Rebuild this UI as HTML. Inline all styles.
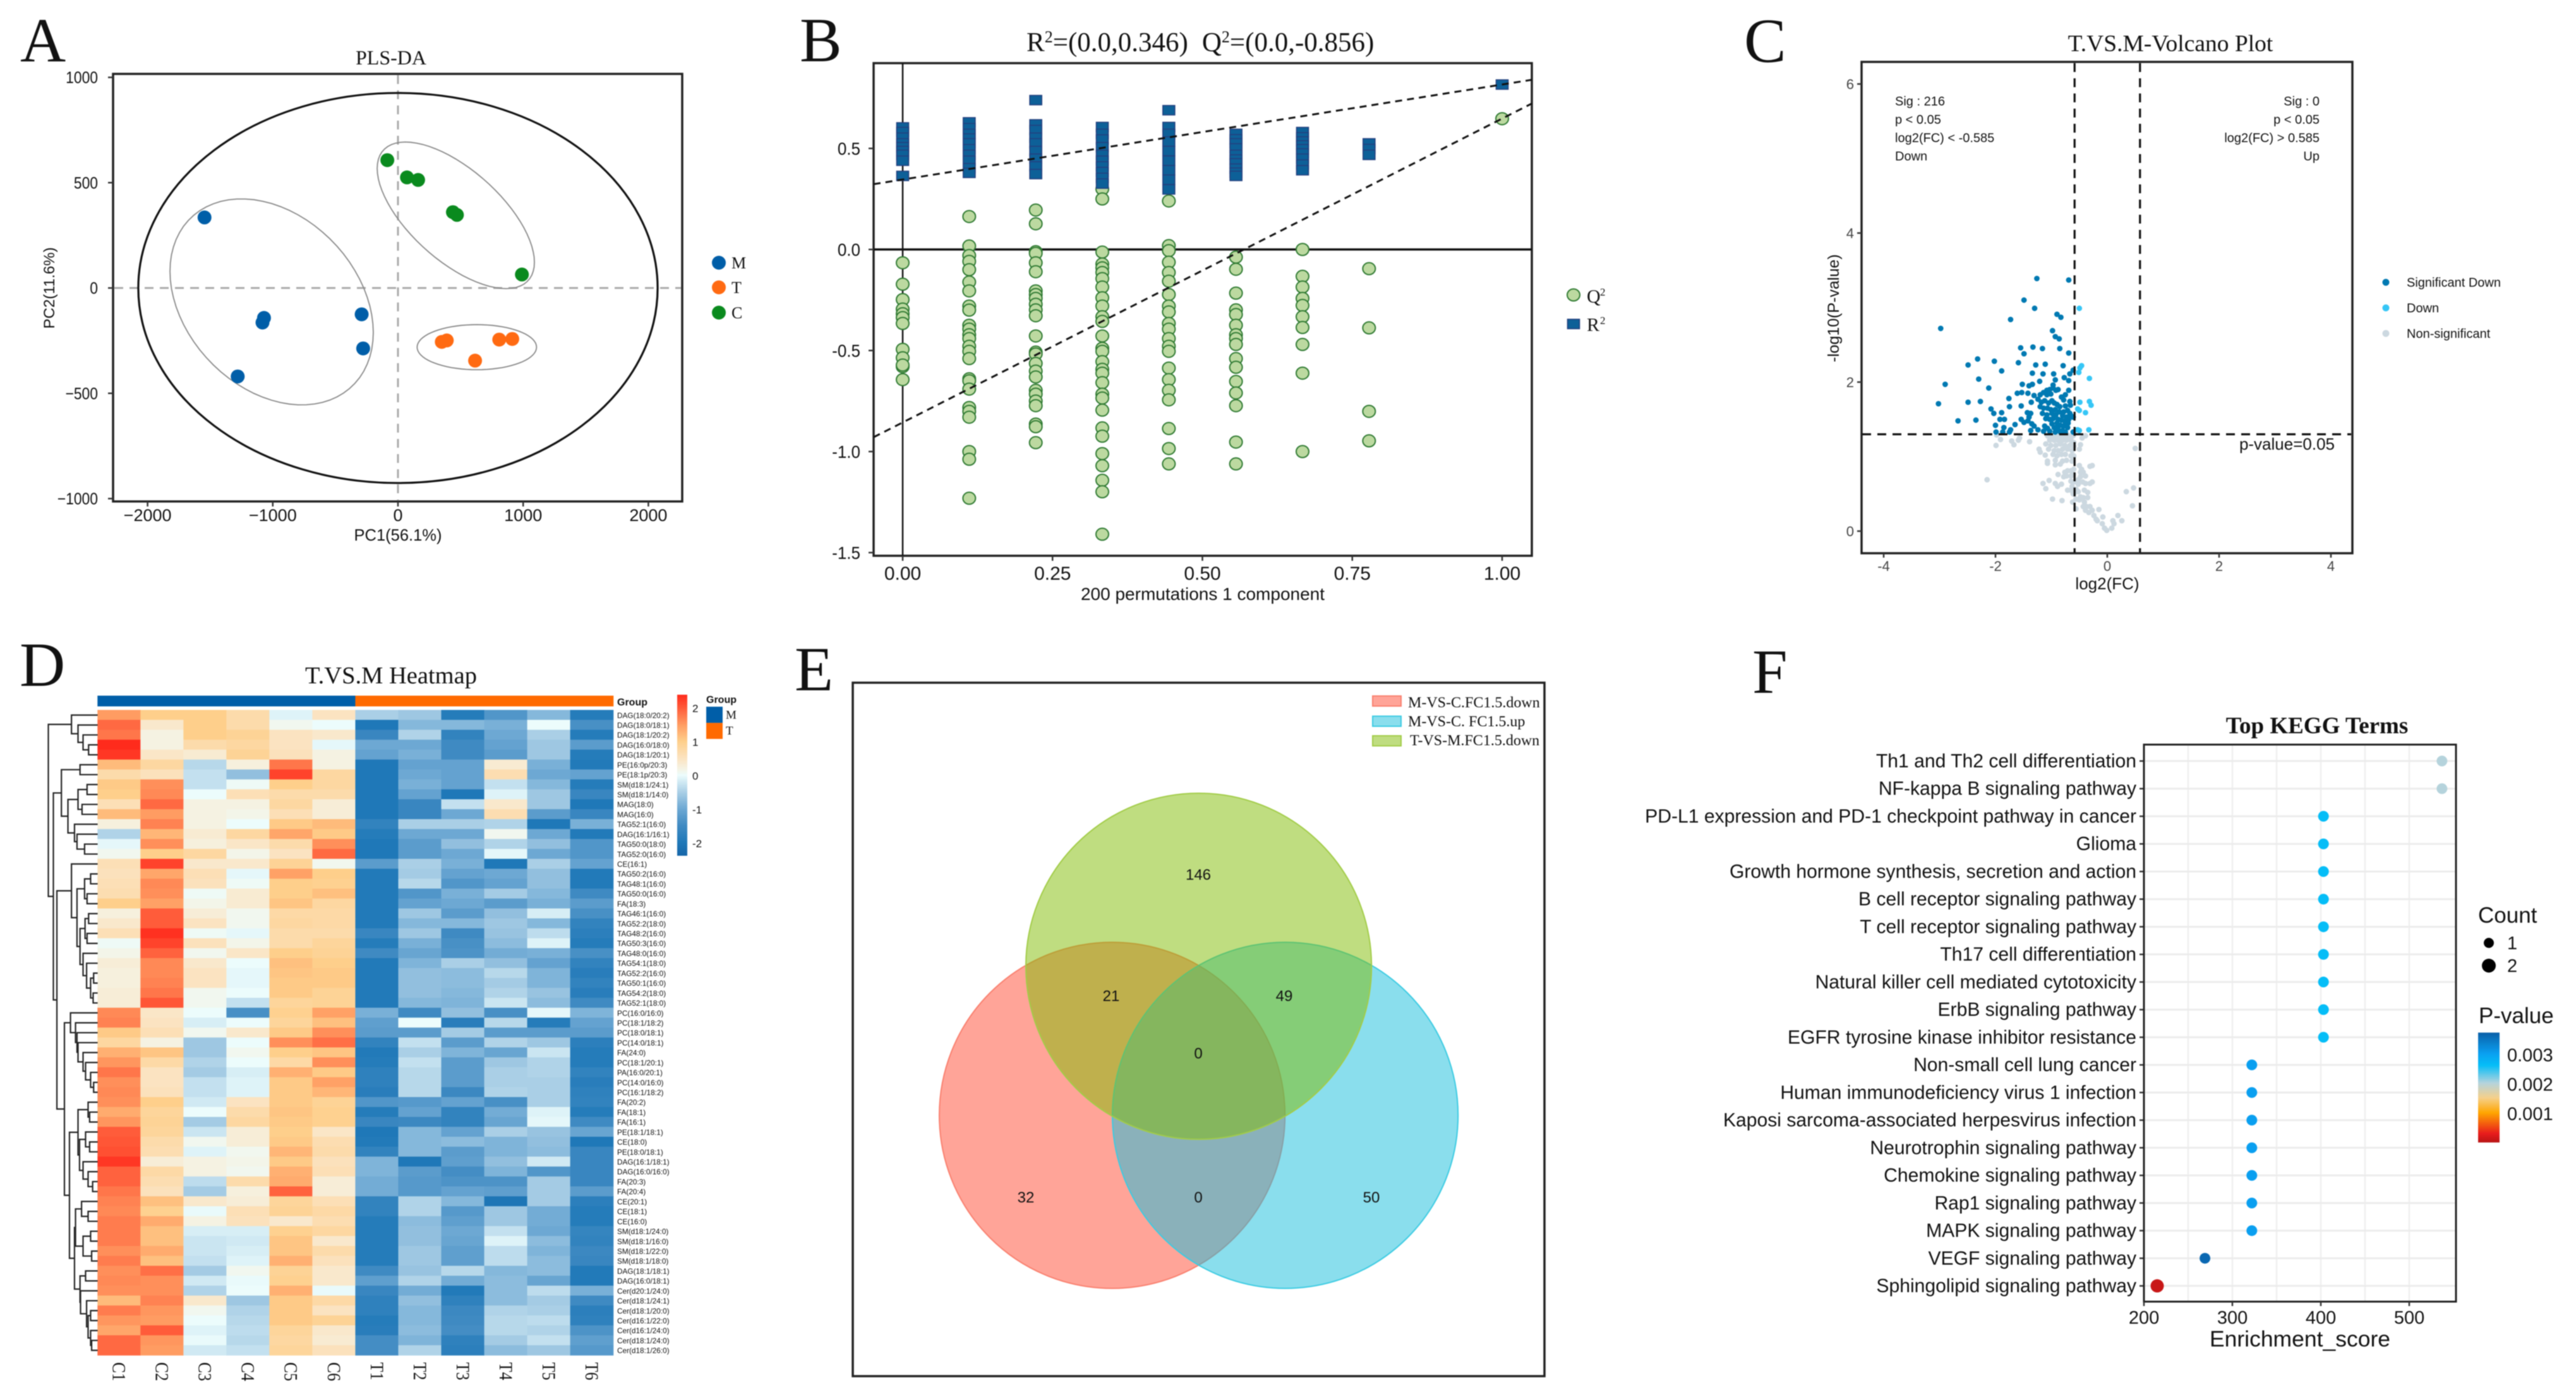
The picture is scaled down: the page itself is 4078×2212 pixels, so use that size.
<!DOCTYPE html>
<html lang="en">
<head>
<meta charset="utf-8">
<title>Multi-panel lipidomics figure</title>
<style>
html,body{margin:0;padding:0;background:#fff;}
svg{display:block;filter:blur(0.7px);}
.s{font-family:"Liberation Serif",serif;fill:#111;}
.a{font-family:"Liberation Sans",sans-serif;fill:#111;}
.frame{fill:none;stroke:#222;stroke-width:3.5;}
.tick{stroke:#333;stroke-width:2.5;}
</style>
</head>
<body>
<svg id="fig" xmlns="http://www.w3.org/2000/svg" width="4078" height="2212" viewBox="0 0 4078 2212">
<defs>
<linearGradient id="heatGrad" x1="0" y1="1" x2="0" y2="0"></linearGradient>
<linearGradient id="pGrad" x1="0" y1="1" x2="0" y2="0"></linearGradient>
</defs>
<rect width="4078" height="2212" fill="#fff"/>

<text class="s" x="32" y="97" font-size="100">A</text>
<text class="s" x="1266" y="97" font-size="100">B</text>
<text class="s" x="2761" y="98" font-size="100">C</text>
<text class="s" x="31" y="1086" font-size="100">D</text>
<text class="s" x="1258" y="1093" font-size="100">E</text>
<text class="s" x="2774" y="1097" font-size="100">F</text>

<g id="panelA">
<text class="s" x="619" y="102" font-size="32" text-anchor="middle">PLS-DA</text>
<text class="a" x="630" y="856" font-size="25.5" text-anchor="middle">PC1(56.1%)</text>
<text class="a" transform="translate(86,456) rotate(-90)" font-size="24" text-anchor="middle">PC2(11.6%)</text>
</g>

<g id="panelB">
<text class="s" x="1625" y="81" font-size="43">R<tspan dy="-14" font-size="26">2</tspan><tspan dy="14">=(0.0,0.346)</tspan><tspan dx="22">Q</tspan><tspan dy="-14" font-size="26">2</tspan><tspan dy="14">=(0.0,-0.856)</tspan></text>
<text class="a" x="1904" y="950" font-size="28" text-anchor="middle">200 permutations 1 component</text>
</g>

<g id="panelC">
<text class="s" x="3436" y="81" font-size="37.5" text-anchor="middle">T.VS.M-Volcano Plot</text>
<text class="a" x="3336" y="933" font-size="26" text-anchor="middle">log2(FC)</text>
<text class="a" transform="translate(2911,488) rotate(-90)" font-size="25" text-anchor="middle">-log10(P-value)</text>
<g class="a" font-size="20">
<text class="a" x="3000" y="167">Sig : 216</text>
<text class="a" x="3000" y="196">p &lt; 0.05</text>
<text class="a" x="3000" y="225">log2(FC) &lt; -0.585</text>
<text class="a" x="3000" y="254">Down</text>
</g>
<g class="a" font-size="20" text-anchor="end">
<text class="a" x="3672" y="167">Sig : 0</text>
<text class="a" x="3672" y="196">p &lt; 0.05</text>
<text class="a" x="3672" y="225">log2(FC) &gt; 0.585</text>
<text class="a" x="3672" y="254">Up</text>
</g>
<text class="a" x="3696" y="712" font-size="26" text-anchor="end">p-value=0.05</text>
</g>

<g id="panelD">
<text class="s" x="619" y="1082" font-size="38.5" text-anchor="middle">T.VS.M Heatmap</text>
<text class="a" x="977" y="1117" font-size="16" font-weight="bold">Group</text>
<text class="a" x="1118" y="1113" font-size="16" font-weight="bold">Group</text>
<rect x="1118" y="1119" width="26" height="25.6" fill="#005ea8"/>
<rect x="1118" y="1144.6" width="26" height="25.4" fill="#ff6a00"/>
<text class="s" x="1149" y="1138" font-size="19">M</text>
<text class="s" x="1149" y="1163" font-size="19">T</text>
</g>

<g id="panelE"></g>

<g id="panelF">
<text class="s" x="3668" y="1161" font-size="37" font-weight="bold" text-anchor="middle">Top KEGG Terms</text>
<text class="a" x="3641" y="2132" font-size="35.5" text-anchor="middle">Enrichment_score</text>
<text class="a" x="3923" y="1461" font-size="35">Count</text>
<text class="a" x="3924" y="1620" font-size="35">P-value</text>
</g>
</svg>

<script>
/* ---------- Panel A data ---------- */
const pcaTicksX = [-2000, -1000, 0, 1000, 2000];
const pcaTicksY = [1000, 500, 0, -500, -1000];
const pcaGroupM = [[-1545, 335], [-1082, -164], [-1070, -142], [-290, -125], [-278, -287], [-1280, -420]];
const pcaGroupT = [[350, -256], [390, -249], [809, -245], [913, -242], [616, -345]];
const pcaGroupC = [[-85, 607], [72, 525], [161, 513], [439, 360], [471, 347], [990, 64]];
const pcaConfidenceRadius = [2074, 926];
/* centre x, centre y, half-width, half-height, correlation */
const pcaEllipseM = [-1009, -66, 812, 489, -0.297];
const pcaEllipseT = [630, -281, 477, 107, 0];
const pcaEllipseC = [462, 345, 628, 348, -0.64];

/* ---------- Panel B data ---------- */
const permTicksX = [0, 0.25, 0.5, 0.75, 1];
const permTickLabelsX = ['0.00', '0.25', '0.50', '0.75', '1.00'];
const permTicksY = [0.5, 0, -0.5, -1, -1.5];
const permTickLabelsY = ['0.5', '0.0', '-0.5', '-1.0', '-1.5'];
const permColumns = [0, 0.111, 0.222, 0.333, 0.444, 0.556, 0.667, 0.778, 1];
const q2Values = [
 [-.066,-.172,-.248,-.295,-.318,-.337,-.366,-.494,-.536,-.58,-.572,-.644],
 [.163,.017,-.03,-.059,-.1,-.161,-.205,-.28,-.3,-.375,-.394,-.422,-.441,-.479,-.504,-.54,-.64,-.65,-.691,-.782,-.801,-.83,-1,-1.038,-1.231],
 [.195,.127,-.011,-.019,-.066,-.11,-.205,-.223,-.242,-.271,-.299,-.328,-.428,-.508,-.517,-.564,-.602,-.631,-.697,-.716,-.75,-.773,-.864,-.877,-.956],
 [.299,.25,-.013,-.072,-.091,-.114,-.144,-.186,-.239,-.28,-.333,-.356,-.428,-.489,-.504,-.555,-.593,-.612,-.659,-.716,-.735,-.795,-.883,-.924,-1.01,-1.07,-1.142,-1.199,-1.409],
 [.24,.019,-.006,-.063,-.114,-.157,-.223,-.28,-.309,-.366,-.394,-.441,-.479,-.504,-.587,-.644,-.697,-.744,-.886,-.985,-1.061],
 [-.038,-.098,-.216,-.299,-.322,-.375,-.422,-.441,-.47,-.54,-.583,-.653,-.71,-.773,-.953,-1.061],
 [0,-.133,-.186,-.242,-.277,-.333,-.386,-.47,-.612,-1],
 [-.095,-.388,-.801,-.947],
 [.647]
];
const r2Values = [
 [.604,.581,.553,.525,.506,.487,.468,.439,.364],
 [.629,.6,.572,.549,.525,.496,.468,.439,.402,.379],
 [.739,.619,.591,.553,.525,.487,.449,.411,.373],
 [.606,.572,.544,.506,.468,.439,.411,.383,.354,.326],
 [.689,.606,.572,.534,.487,.439,.392,.345,.297],
 [.572,.545,.525,.5,.468,.445,.426,.4,.38,.364],
 [.581,.555,.534,.515,.496,.475,.449,.42,.392],
 [.525,.497,.468],
 [.816]
];
const r2Fit = [0.346, 0.816];
const q2Fit = [-0.856, 0.647];

/* ---------- Panel C data ---------- */
const volcanoTicksX = [-4, -2, 0, 2, 4];
const volcanoTicksY = [0, 2, 4, 6];
const volcanoThresholdFC = [-0.585, 0.585];
const volcanoThresholdP = 1.3;
const volcanoSigDown = [
[-1.26,3.39],[-.69,3.37],[-1.49,3.10],[-1.30,2.99],[-1.73,2.84],[-.90,2.91],[-.83,2.87],[-2.98,2.72],[-.98,2.69],[-.93,2.61],[-.86,2.58],
[-1.55,2.46],[-1.33,2.47],[-1.16,2.45],[-.85,2.45],[-1.49,2.38],[-.69,2.39],[-2.32,2.31],[-2.49,2.23],[-2.02,2.28],[-1.59,2.26],[-1.28,2.23],[-1.11,2.24],[-.79,2.22],[-.61,2.16],[-1.89,2.15],
[-1.34,2.12],[-1.15,2.11],[-.96,2.11],[-.67,2.11],[-2.30,2.04],[-.77,2.06],[-2.90,1.97],[-.93,2.03],[-1.21,2.01],[-.69,2.02],[-2.12,1.92],[-1.52,1.97],[-1.34,1.97],[-1.40,1.95],[-.97,1.96],
[-1.61,1.85],[-1.53,1.86],[-1.42,1.85],[-1.31,1.82],[-.88,1.90],[-.69,1.89],[-.75,1.83],[-3.02,1.71],[-2.49,1.73],[-2.27,1.74],[-1.76,1.78],[-1.36,1.73],[-1.54,1.68],[-1.75,1.67],[-2.08,1.64],[-1.89,1.59],[-2.03,1.58],
[-1.92,1.50],[-1.84,1.50],[-2.67,1.48],[-2.35,1.49],[-2.00,1.42],[-1.54,1.50],[-1.65,1.43],[-1.85,1.39],[-1.73,1.36],[-1.75,1.33],[-1.99,1.33],[-1.87,1.33],[-1.43,1.59],[-1.37,1.58],[-1.40,1.53],[-1.49,1.46],[-1.42,1.48],[-1.35,1.44],[-1.31,1.41],[-1.37,1.35],[-1.24,1.36],
[-1.20,1.83],[-1.14,1.86],[-1.08,1.89],[-1.03,1.90],[-.97,1.92],[-.92,1.89],[-1.08,1.83],[-1.01,1.84],[-1.24,1.77],[-1.18,1.73],[-1.12,1.75],[-.99,1.75],[-.95,1.72],[-.82,1.80],[-.78,1.76],[-.67,1.74],[-.66,1.69],[-.75,1.68],
[-1.20,1.67],[-1.14,1.65],[-1.07,1.65],[-1.01,1.63],[-.93,1.63],[-.86,1.60],[-.78,1.60],[-.71,1.62],[-.67,1.58],[-1.16,1.58],[-1.08,1.56],[-.99,1.58],[-.92,1.56],[-.80,1.55],[-.73,1.53],[-.61,1.53],[-.69,1.50],[-1.10,1.51],[-.97,1.51],[-.82,1.49],[-.76,1.48],
[-.90,1.45],[-.99,1.44],[-.84,1.42],[-.78,1.41],[-.71,1.39],[-1.12,1.41],[-1.07,1.38],[-.95,1.39],[-.88,1.36],[-.80,1.35],[-1.03,1.34],[-1.14,1.34],[-.93,1.33],[-.84,1.33],[-.75,1.33],[-.61,1.33],
[-1.05,1.72],[-.9,1.7],[-.85,1.67],[-.95,1.55],[-1.03,1.5],[-.88,1.5],[-.9,1.38],[-.75,1.45],[-.7,1.45],[-.65,1.55]
];
const volcanoDown = [[-.50,2.99],[-.46,2.22],[-.49,2.19],[-.51,2.13],[-.32,2.05],[-.49,1.73],[-.32,1.74],[-.29,1.69],[-.53,1.64],[-.50,1.62],[-.39,1.59],[-.53,1.36],[-.50,1.35],[-.33,1.36]];
const volcanoNonSig = [
[-1.98,1.29],[-1.91,1.23],[-1.99,1.15],[-1.71,1.21],[-1.67,1.16],[-1.57,1.25],[-1.59,1.22],[-1.39,1.20],[-2.15,.69],[-.45,1.25],[-.39,1.28],[.50,1.11],[-.48,1.16],[-.50,1.10],[-1.22,1.10],[-1.20,1.06],[-1.11,1.02],[-1.07,.94],[-1.07,.91],[-.93,.89],[-.88,.76],[-1.15,.64],[-1.10,.57],[-1.04,.68],[-.93,.64],[-.82,.63],[-.89,.60],[-.98,.43],[-.81,.41],[-.62,.39],[-.56,.30],[-.27,.88],[-.31,.87],[-.27,.66],[-.31,.64],[.34,.53],[.47,.58],[.45,.34],[.19,.21],[.10,.14],[.12,.10],[.08,.04],[.26,.14],[-.15,.29],[-.08,.19],[-.09,.10],[-.05,.04],[-.01,.01],
[-1.07,1.28],[-.99,1.28],[-.92,1.28],[-.84,1.28],[-.76,1.28],[-.69,1.28],[-.61,1.28],[-1.03,1.22],[-.95,1.22],[-.88,1.22],[-.80,1.22],[-.73,1.22],[-.65,1.22],[-.60,1.19],[-1.10,1.17],[-1.01,1.15],[-.92,1.15],[-.84,1.17],[-.76,1.15],[-.67,1.15],[-.60,1.14],[-1.05,1.10],[-.95,1.08],[-.88,1.08],[-.80,1.10],[-.71,1.10],[-.63,1.08],[-.97,1.03],[-.90,1.01],[-.82,1.03],[-.75,1.03],[-.65,1.01],[-.60,1.01],[-.93,.95],[-.80,.94],[-.73,.95],[-.63,.94],[-.84,.90],
[-.50,.88],[-.46,.83],[-.43,.79],[-.39,.74],[-.48,.79],[-.48,.73],[-.52,.69],[-.44,.66],[-.39,.64],[-.71,.81],[-.65,.81],[-.76,.79],[-.73,.74],[-.78,.73],[-.65,.74],[-.60,.83],[-.61,.76],[-.65,.67],[-.60,.66],[-.52,.63],[-.63,.60],[-.56,.56],[-.71,.55],[-.65,.55],[-.60,.50],[-.52,.53],[-.41,.55],[-.35,.52],[-.56,.43],[-.48,.46],[-.43,.45],[-.35,.45],[-.41,.39],[-.31,.33],[-.37,.33],[-.39,.28],[-.33,.25],[-.27,.28],[-.24,.21],[-.20,.16],[-.18,.14],[-.61,.50],[-.50,.42],[-.43,.33]
];
const volcanoLegendLabels = ['Significant Down', 'Down', 'Non-significant'];

/* ---------- Panel D data ---------- */
const sampleLabels = ['C1','C2','C3','C4','C5','C6','T1','T2','T3','T4','T5','T6'];
const lipidLabels = ['DAG(18:0/20:2)','DAG(18:0/18:1)','DAG(18:1/20:2)','DAG(16:0/18:0)','DAG(18:1/20:1)','PE(16:0p/20:3)','PE(18:1p/20:3)','SM(d18:1/24:1)','SM(d18:1/14:0)','MAG(18:0)','MAG(16:0)','TAG52:1(16:0)','DAG(16:1/16:1)','TAG50:0(18:0)','TAG52:0(16:0)','CE(16:1)','TAG50:2(16:0)','TAG48:1(16:0)','TAG50:0(16:0)','FA(18:3)','TAG46:1(16:0)','TAG52:2(18:0)','TAG48:2(16:0)','TAG50:3(16:0)','TAG48:0(16:0)','TAG54:1(18:0)','TAG52:2(16:0)','TAG50:1(16:0)','TAG54:2(18:0)','TAG52:1(18:0)','PC(16:0/16:0)','PC(18:1/18:2)','PC(18:0/18:1)','PC(14:0/18:1)','FA(24:0)','PC(18:1/20:1)','PA(16:0/20:1)','PC(14:0/16:0)','PC(16:1/18:2)','FA(20:2)','FA(18:1)','FA(16:1)','PE(18:1/18:1)','CE(18:0)','PE(18:0/18:1)','DAG(16:1/18:1)','DAG(16:0/16:0)','FA(20:3)','FA(20:4)','CE(20:1)','CE(18:1)','CE(16:0)','SM(d18:1/24:0)','SM(d18:1/16:0)','SM(d18:1/22:0)','SM(d18:1/18:0)','DAG(18:1/18:1)','DAG(16:0/18:1)','Cer(d20:1/24:0)','Cer(d18:1/24:1)','Cer(d18:1/20:0)','Cer(d16:1/22:0)','Cer(d16:1/24:0)','Cer(d18:1/24:0)','Cer(d18:1/26:0)'];
const heatValues = [
[1.5,1,1,.7,-.1,.5,-.5,-.6,-1.9,-1.3,-.8,-1.9],
[1.9,.4,1,.7,.1,0,-2,-.8,-.8,-.9,0,-1.4],
[1.8,.2,1,.9,.5,.4,-1.6,-.45,-1.7,-1,-.5,-1.9],
[2.4,.2,.7,.8,.5,-.05,-1,-1,-1.5,-1.1,-.6,-1.2],
[2.3,.45,.35,.9,.55,.2,-1.1,-.9,-1.5,-1.2,-.6,-1.9],
[1.2,.8,-.4,.25,1.8,.2,-2,-1.1,-1.1,.35,-.9,-1.95],
[.7,.55,-.3,-.7,2.2,.8,-2,-1,-1.1,.65,-1,-1.1],
[1.05,1.6,-.3,.05,1,.8,-2,-.9,-1.1,-.3,-.8,-1.9],
[1,1.65,0,.6,.7,.7,-2,-1.1,-2,-.1,-.6,-1.6],
[.6,1.9,.2,.2,.8,.3,-2,-1.6,-.3,.4,-.6,-2],
[1.2,1.5,.2,.15,.6,.3,-2,-1.6,-1,.65,-1.2,-1.6],
[.25,1.7,.2,0,1.05,1.2,-1.7,-.5,-.5,-.45,-2,-.9],
[-.45,1.25,.35,.8,1.4,1.05,-1.9,-1,-1,.1,-1,-1.95],
[-.05,1.6,.25,.45,.7,1.6,-2,-1.2,-.7,-.45,-.7,-1.3],
[.1,1,.8,.15,.5,1.9,-2,-1.2,-1,-.05,-1,-1.3],
[.6,2.2,.4,.4,.9,.1,-1.2,-.5,-.9,-2,-.5,-1.1],
[.55,1.4,.6,-.05,1.45,1,-1.95,-.55,-1.1,-1,-.7,-1.95],
[.6,1.65,.55,.05,1,.95,-1.95,-.4,-1.3,-1.1,-.7,-1.95],
[.65,1.6,.05,.35,1,1.15,-1.95,-1.3,-.9,-.55,-.8,-1.5],
[1,1.45,.15,.35,1.1,.8,-1.95,-1.1,-1,-1.2,-.9,-1.2],
[.25,2,.3,.1,.75,.75,-1.95,-.6,-1.2,-.7,-.15,-1.4],
[.4,2,.5,.1,.8,.75,-1.95,-.8,-.8,-.6,-.8,-1.7],
[.6,2.35,.05,-.05,.7,.7,-1.6,-.6,-1.5,-.65,-.35,-1.8],
[.05,2.2,.55,.15,.7,.85,-1.9,-.9,-1.4,-.75,-.1,-1.9],
[.15,1.95,.1,.45,1,.9,-1.5,-1.05,-1.35,-.95,-.9,-1.4],
[.3,1.65,.4,0,1.15,1,-1.95,-.85,-.5,-.7,-1.1,-1.7],
[.25,1.65,.5,-.05,1.1,1.05,-1.95,-.7,-.75,-.4,-.85,-1.85],
[.25,1.7,.5,-.05,1.05,1.05,-1.95,-.7,-.75,-.55,-.85,-1.7],
[.3,1.8,.1,0,1.05,.9,-1.95,-.7,-.8,-.45,-.65,-1.85],
[.3,2.05,.1,-.3,.85,.9,-1.95,-.8,-.85,-.25,-.75,-1.5],
[1.65,.45,0,-1.4,.95,1.45,-.9,-1.5,-.7,-1.4,-.05,-.85],
[1.7,.5,-.15,0,.85,1.15,-1.15,0,-1.85,-.4,-1.9,-1.1],
[1.05,.6,.1,.4,1.05,1.6,-1.2,-1.2,-.55,-1.2,-1.2,-1.2],
[.8,.2,-.6,0,1.6,1.85,-1.7,-.3,-1.2,-.45,-.6,-1.8],
[1.3,1.1,-.6,.1,1,1.1,-1.95,-.5,-.85,-1.05,-.25,-1.9],
[1.55,.75,-.45,0,.75,1.6,-1.9,-.3,-1.2,-.6,-.45,-1.9],
[1.8,.5,-.55,-.15,1.3,1.05,-1.75,-.4,-1.2,-.5,-.45,-1.7],
[1.6,.5,-.3,-.1,1.05,1.45,-1.75,-.4,-1.2,-.5,-.5,-1.85],
[1.65,.55,-.3,-.1,1.05,1.25,-1.85,-.4,-1.55,-.45,-.5,-1.75],
[1.6,1,-.2,.5,1.05,.9,-1.3,-1.25,-1.1,-1.4,-.5,-1.7],
[1.35,.85,0,.7,1.1,.95,-1.9,-1.1,-1.7,-.95,-.1,-1.9],
[1.55,.9,-.55,.8,1.05,.95,-1.6,-1.55,-1.7,-1.05,-.05,-1.5],
[2,.85,-.25,.3,1,.45,-2,-.8,-1.1,-.5,-.65,-1.05],
[2.05,.7,.1,.3,1.05,.65,-1.95,-.8,-.75,-.85,-.7,-2],
[2.1,.65,-.1,.1,1.25,.7,-1.7,-.8,-1.2,-.85,-.75,-1.6],
[2.3,.3,.2,.15,1.05,.55,-.85,-2,-1.15,-.7,-.2,-1.6],
[1.95,.75,.2,.1,1.3,.6,-.85,-1.2,-1.45,-.85,-1.3,-1.6],
[1.95,.65,-.35,.7,1.35,.3,-.95,-1.25,-1.35,-1.35,-.55,-1.6],
[1.8,.55,-.55,.25,1.95,.3,-.95,-1.25,-1.1,-1.15,-.55,-1.2],
[1.7,1.15,.4,.3,.85,.6,-1.7,-.45,-.8,-2.05,-.55,-1.8],
[1.65,.95,-.02,.6,.9,.75,-1.7,-.45,-1.25,-.6,-.95,-1.9],
[1.75,1.35,.2,.55,.4,.65,-1.9,-.75,-1.15,-.6,-.95,-1.9],
[1.75,1.15,-.15,-.15,.95,.8,-1.9,-.7,-1,-.3,-1,-1.65],
[1.75,1.15,-.25,-.2,1.1,.4,-1.9,-.7,-1.05,-.1,-.75,-1.7],
[1.6,1.35,-.25,-.15,1.1,.7,-1.9,-.6,-1.15,-.35,-.85,-1.55],
[1.75,1.15,-.3,-.1,1.3,.55,-1.9,-.6,-1.15,-.35,-.75,-1.6],
[1.6,1.85,-.55,.1,.9,.4,-1.5,-.65,-.4,-.8,-.75,-1.95],
[1.65,1.6,-.2,-.02,.95,.4,-1.15,-.45,-.95,-.75,-1.05,-1.95],
[1.6,1.6,-.45,0,1.3,-.02,-1.6,-.95,-1.95,-.75,-.35,-.9],
[1.2,1.7,.4,-.6,1.05,.75,-1.75,-.7,-1.75,-.75,-.55,-1.5],
[1.75,1.55,.1,-.45,1.05,.5,-1.75,-.8,-1.55,-.45,-.5,-1.8],
[1.55,1.5,0,-.4,1.05,.9,-1.9,-.8,-1.5,-.4,-.35,-1.75],
[1.4,2,-.1,-.35,.85,.4,-1.85,-.75,-1.45,-.4,-.45,-1.35],
[1.9,1.55,-.02,-.4,.8,.35,-1.45,-.85,-1.75,-.55,-.3,-1.15],
[1.9,1.5,-.2,-.3,.85,.55,-1.45,-.45,-1.8,-.75,-.6,-1.25]
];
const heatLegendTicks = [2, 1, 0, -1, -2];
const sampleGroups = ['M','M','M','M','M','M','T','T','T','T','T','T'];
/* merge tree: [height, left, right]; a bare number is a row index */
const dendrogram = [98,
 [52,0,[39,1,[29,2,[18,3,4]]]],
 [88,
  [72,[35,5,6],[59,[39,[21,7,8],[31,9,10]],[46,11,[41,12,[26,13,14]]]]],
  [81,
   [52,15,[41,[26,[14,16,17],[21,18,19]],[35,[25,[18,20,21],[21,22,23]],[29,24,[22,25,[14,[8,26,27],[9,28,29]]]]]]],
   [66,
    [54,30,[44,31,[41,32,[39,33,[29,34,[24,35,[14,36,[8,37,38]]]]]]]],
    [56,
     [39,[19,39,[16,40,41]],[36,[24,42,[16,43,44]],[29,45,[19,46,[10,47,48]]]]],
     [46,[44,[32,49,[19,50,51]],[29,[14,52,53],[12,54,55]]],[35,[24,56,57],[34,58,[22,59,[19,[14,60,61],[14,62,[12,63,64]]]]]]]
    ]
   ]
  ]
 ]
];

/* ---------- Panel E data ---------- */
const vennCounts = [146, 21, 49, 0, 32, 0, 50];
const vennLegendLabels = ['M-VS-C.FC1.5.down', 'M-VS-C. FC1.5.up', 'T-VS-M.FC1.5.down'];

/* ---------- Panel F data ---------- */
const keggTerms = ['Th1 and Th2 cell differentiation','NF-kappa B signaling pathway','PD-L1 expression and PD-1 checkpoint pathway in cancer','Glioma','Growth hormone synthesis, secretion and action','B cell receptor signaling pathway','T cell receptor signaling pathway','Th17 cell differentiation','Natural killer cell mediated cytotoxicity','ErbB signaling pathway','EGFR tyrosine kinase inhibitor resistance','Non-small cell lung cancer','Human immunodeficiency virus 1 infection','Kaposi sarcoma-associated herpesvirus infection','Neurotrophin signaling pathway','Chemokine signaling pathway','Rap1 signaling pathway','MAPK signaling pathway','VEGF signaling pathway','Sphingolipid signaling pathway'];
const keggEnrichment = [537,537,403,403,403,403,403,403,403,403,403,322,322,322,322,322,322,322,269,215];
const keggPValue = [.0020,.0020,.0026,.0026,.0026,.0026,.0026,.0026,.0026,.0026,.0026,.0030,.0030,.0030,.0030,.0030,.0030,.0030,.0036,.0001];
const keggCount = [1,1,1,1,1,1,1,1,1,1,1,1,1,1,1,1,1,1,1,2];
const keggTicksX = [200, 300, 400, 500];
const keggMinorX = [250, 350, 450];
const countLegendValues = [1, 2];
const pLegendTicks = [0.003, 0.002, 0.001];

/* ---------- helpers ---------- */
const NS = 'http://www.w3.org/2000/svg';
const svg = document.getElementById('fig');
function mk(tag, parent, attrs) {
  const el = document.createElementNS(NS, tag);
  for (const k in attrs) el.setAttribute(k, attrs[k]);
  parent.appendChild(el);
  return el;
}
function tx(parent, x, y, str, cls, size, o) {
  o = o || {};
  const el = document.createElementNS(NS, 'text');
  el.setAttribute('class', cls);
  el.setAttribute('font-size', size);
  el.setAttribute('text-anchor', o.anchor || 'start');
  el.setAttribute('transform', 'translate(' + x + ',' + y + ')' + (o.rot ? ' rotate(' + o.rot + ')' : '') + (o.sx ? ' scale(' + o.sx + ',1)' : ''));
  if (o.fill) el.setAttribute('style', 'fill:' + o.fill);
  if (o.weight) el.setAttribute('font-weight', o.weight);
  el.textContent = str;
  parent.appendChild(el);
  return el;
}
function lerpColor(stops, v) {
  if (v <= stops[0][0]) return stops[0][1];
  for (let i = 1; i < stops.length; i++) {
    if (v <= stops[i][0]) {
      const a = stops[i - 1], b = stops[i], t = (v - a[0]) / (b[0] - a[0]);
      const pa = parseInt(a[1].slice(1), 16), pb = parseInt(b[1].slice(1), 16);
      const ch = s => Math.round(((pa >> s) & 255) * (1 - t) + ((pb >> s) & 255) * t);
      return 'rgb(' + ch(16) + ',' + ch(8) + ',' + ch(0) + ')';
    }
  }
  return stops[stops.length - 1][1];
}

/* ---------- Panel A ---------- */
(function () {
  const g = document.getElementById('panelA');
  const ax = v => 630 + v * 0.1982;
  const ay = v => 456 - v * 0.3335;
  const frameEl = mk('rect', g, {x: 179, y: 117, width: 901, height: 677, class: 'frame'});
  
  
  const vz = mk('line', g, {x1: ax(0), x2: ax(0), y1: 119, y2: 792, stroke: '#aaa', 'stroke-width': 3, 'stroke-dasharray': '14 10'});
  
  
  const hz = mk('line', g, {x1: 181, x2: 1078, y1: ay(0), y2: ay(0), stroke: '#aaa', 'stroke-width': 3, 'stroke-dasharray': '14 10'});
  
  
  const big = mk('ellipse', g, {cx: ax(0), cy: ay(0), rx: pcaConfidenceRadius[0] * 0.1982, ry: pcaConfidenceRadius[1] * 0.3335, fill: 'none', stroke: '#111', 'stroke-width': 3.2});
  
  
  [pcaEllipseM, pcaEllipseT, pcaEllipseC].forEach(e => {
    let d = '';
    for (let i = 0; i <= 72; i++) {
      const t = i / 72 * 2 * Math.PI;
      const X = e[0] + e[2] * Math.cos(t);
      const Y = e[1] + e[3] * Math.cos(t + Math.acos(e[4]));
      d += (i ? 'L' : 'M') + ax(X).toFixed(1) + ' ' + ay(Y).toFixed(1);
    }
    const p = mk('path', g, {d: d + 'Z', fill: 'none', stroke: '#888', 'stroke-width': 1.8});
    
    
  });
  [[pcaGroupM, '#005ea8', 'point-m'], [pcaGroupT, '#ff6a12', 'point-t'], [pcaGroupC, '#0a8a1e', 'point-c']].forEach(s => {
    s[0].forEach(pt => {
      const c = mk('ellipse', g, {cx: ax(pt[0]), cy: ay(pt[1]), rx: 11, ry: 11, fill: s[1]});
      
      
    });
  });
  pcaTicksX.forEach(v => {
    const t = mk('line', g, {x1: ax(v), x2: ax(v), y1: 794, y2: 802, class: 'tick'});
    
    
    const l = tx(g, ax(v), 825, String(v).replace('-', '\u2212'), 'a', 27, {anchor: 'middle'});
    
    
  });
  pcaTicksY.forEach(v => {
    const t = mk('line', g, {x1: 171, x2: 179, y1: ay(v), y2: ay(v), class: 'tick'});
    
    
    const l = tx(g, 155, ay(v) + 9, String(v).replace('-', '\u2212'), 'a', 26, {anchor: 'end', sx: 0.88});
    
    
  });
  [['M', '#005ea8', 416], ['T', '#ff6a12', 455], ['C', '#0a8a1e', 495]].forEach(s => {
    const c = mk('ellipse', g, {cx: 1138, cy: s[2], rx: 11, ry: 11, fill: s[1]});
    
    
    const l = tx(g, 1158, s[2] + 9, s[0], 's', 26);
    
    
  });
})();

/* ---------- Panel B ---------- */
(function () {
  const g = document.getElementById('panelB');
  const bx = v => 1429 + v * 949;
  const by = v => 395 - v * 320;
  const frameEl = mk('rect', g, {x: 1383, y: 100, width: 1042, height: 780, class: 'frame'});
  
  
  const v0 = mk('line', g, {x1: bx(0), x2: bx(0), y1: 100, y2: 880, stroke: '#111', 'stroke-width': 2.5});
  
  
  const h0 = mk('line', g, {x1: 1383, x2: 2425, y1: by(0), y2: by(0), stroke: '#111', 'stroke-width': 3.5});
  
  
  q2Values.forEach((col, i) => {
    col.forEach(v => {
      const c = mk('ellipse', g, {cx: bx(permColumns[i]), cy: by(v), rx: 10, ry: 9.5, fill: '#bcd9a0', stroke: '#2f7a32', 'stroke-width': 2});
      
      
    });
  });
  r2Values.forEach((col, i) => {
    col.forEach(v => {
      const r = mk('rect', g, {x: bx(permColumns[i]) - 9.5, y: by(v) - 7.5, width: 19, height: 15, fill: '#0d6098', stroke: '#24407f', 'stroke-width': 1.6});
      
      
    });
  });
  [[r2Fit, 'r2-fit-line'], [q2Fit, 'q2-fit-line']].forEach(f => {
    const at = x => f[0][0] + (f[0][1] - f[0][0]) * x;
    const l = mk('line', g, {x1: 1383, y1: by(at(-0.0485)), x2: 2425, y2: by(at(1.05)), stroke: '#111', 'stroke-width': 3, 'stroke-dasharray': '11 8'});
    
    
  });
  permTicksX.forEach((v, i) => {
    const t = mk('line', g, {x1: bx(v), x2: bx(v), y1: 880, y2: 888, class: 'tick'});
    
    
    const l = tx(g, bx(v), 918, permTickLabelsX[i], 'a', 30, {anchor: 'middle'});
    
    
  });
  permTicksY.forEach((v, i) => {
    const t = mk('line', g, {x1: 1375, x2: 1383, y1: by(v), y2: by(v), class: 'tick'});
    
    
    const l = tx(g, 1362, by(v) + 10, permTickLabelsY[i], 'a', 28, {anchor: 'end', sx: 0.93});
    
    
  });
  const qm = mk('ellipse', g, {cx: 2491, cy: 467, rx: 10, ry: 9.5, fill: '#bcd9a0', stroke: '#2f7a32', 'stroke-width': 2});
  
  
  const rm = mk('rect', g, {x: 2481.5, y: 505.5, width: 19, height: 15, fill: '#0d6098', stroke: '#24407f', 'stroke-width': 1.6});
  
  
  [['Q', 479, 'legend-label-q2'], ['R', 524, 'legend-label-r2']].forEach(s => {
    const l = tx(g, 2512, s[1], s[0], 's', 30);
    
    
    const e = tx(g, 2533, s[1] - 11, '2', 's', 17);
    
    
  });
})();

/* ---------- Panel C ---------- */
(function () {
  const g = document.getElementById('panelC');
  const cx = v => 3336 + v * 88.5;
  const cy = v => 841 - v * 118;
  const frameEl = mk('rect', g, {x: 2947, y: 98, width: 777, height: 778, class: 'frame'});
  
  
  [[volcanoNonSig, '#ccd8e0', 'non-significant-point'], [volcanoSigDown, '#0079b2', 'significant-down-point'], [volcanoDown, '#36c6f6', 'down-point']].forEach(s => {
    s[0].forEach(pt => {
      const c = mk('circle', g, {cx: cx(pt[0]), cy: cy(pt[1]), r: 4.4, fill: s[1]});
      
      
    });
  });
  volcanoThresholdFC.forEach(v => {
    const l = mk('line', g, {x1: cx(v), x2: cx(v), y1: 100, y2: 875, stroke: '#111', 'stroke-width': 3.2, 'stroke-dasharray': '14 10'});
    
    
  });
  const hp = mk('line', g, {x1: 2948, x2: 3722, y1: cy(volcanoThresholdP), y2: cy(volcanoThresholdP), stroke: '#111', 'stroke-width': 3.2, 'stroke-dasharray': '14 10'});
  
  
  volcanoTicksX.forEach(v => {
    const t = mk('line', g, {x1: cx(v), x2: cx(v), y1: 876, y2: 883, class: 'tick'});
    
    
    const l = tx(g, cx(v), 904, String(v), 'a', 22, {anchor: 'middle', fill: '#444'});
    
    
  });
  volcanoTicksY.forEach(v => {
    const t = mk('line', g, {x1: 2940, x2: 2947, y1: cy(v), y2: cy(v), class: 'tick'});
    
    
    const l = tx(g, 2935, cy(v) + 8, String(v), 'a', 22, {anchor: 'end', fill: '#444'});
    
    
  });
  volcanoLegendLabels.forEach((s, i) => {
    const c = mk('circle', g, {cx: 3777, cy: 447 + i * 40.5, r: 5.5, fill: ['#0079b2', '#36c6f6', '#ccd8e0'][i]});
    
    
    const l = tx(g, 3810, 454 + i * 40.5, s, 'a', 20);
    
    
  });
})();

/* ---------- Panel D ---------- */
(function () {
  const g = document.getElementById('panelD');
  const X0 = 154.6, CW = 68.03, Y0 = 1124.4, RH = 15.717;
  const stops = [[-2.4,'#1565a8'],[-2,'#1f78b8'],[-1.5,'#3f8ac2'],[-1,'#6da8d3'],[-.5,'#aacfe6'],[-.2,'#d0e9f3'],[0,'#ecfcfc'],[.2,'#f5f2e2'],[.5,'#fbe3c1'],[1,'#fecf8b'],[1.5,'#ff9c62'],[2,'#ff5c3a'],[2.4,'#ff2b1c']];
  const col = i => X0 + i * CW;
  const row = i => Y0 + i * RH;
  sampleGroups.forEach((s, i) => {
    const r = mk('rect', g, {x: col(i) - .3, y: 1101.5, width: CW + .6, height: 17, fill: s === 'M' ? '#005ea8' : '#ff6a00'});
    
    
  });
  heatValues.forEach((vals, i) => {
    vals.forEach((v, j) => {
      const r = mk('rect', g, {x: col(j) - .3, y: row(i) - .3, width: CW + .6, height: RH + .6, fill: lerpColor(stops, v)});
      
      
    });
    const l = tx(g, 977, row(i) + RH / 2 + 4.5, lipidLabels[i], 'a', 11.8);
    
    
  });
  sampleLabels.forEach((s, j) => {
    const l = tx(g, col(j) + CW / 2 - 10, 2157, s, 's', 30, {rot: 90, sx: 0.85});
    
    
  });
  function draw(node) {
    if (typeof node === 'number') return {x: X0, y: row(node) + RH / 2};
    const a = draw(node[1]), b = draw(node[2]);
    const x = X0 - node[0] * 0.797;
    const p = mk('path', g, {d: 'M' + a.x + ' ' + a.y + 'H' + x + 'V' + b.y + 'H' + b.x, fill: 'none', stroke: '#222', 'stroke-width': 2.2});
    
    
    return {x: x, y: (a.y + b.y) / 2};
  }
  const rootPos = draw(dendrogram);
  const grad = document.getElementById('heatGrad');
  stops.forEach(s => {
    const st = mk('stop', grad, {offset: (s[0] + 2.4) / 4.8, 'stop-color': s[1]});
    
    
  });
  const bar = mk('rect', g, {x: 1072, y: 1100, width: 16, height: 255, fill: 'url(#heatGrad)'});
  
  
  heatLegendTicks.forEach(v => {
    const l = tx(g, 1096, 1228.5 - v * 53.5 + 6, String(v), 'a', 17);
    
    
  });
})();

/* ---------- Panel E ---------- */
(function () {
  const g = document.getElementById('panelE');
  const frameEl = mk('rect', g, {x: 1350, y: 1081, width: 1095, height: 1098, class: 'frame'});
  
  
  [[1760.6, 1766, '#ff4931', '#f9806f', 'venn-set-m-vs-c-down'], [2034.6, 1766, '#15bddb', '#3ccbe2', 'venn-set-m-vs-c-up'], [1897.6, 1530, '#7fbb01', '#a2cc48', 'venn-set-t-vs-m-down']].forEach(c => {
    const e = mk('ellipse', g, {cx: c[0], cy: c[1], rx: 273.6, ry: 274, fill: c[2], 'fill-opacity': .5, stroke: c[3], 'stroke-width': 2});
    
    
  });
  const spots = [[1897,1385],[1759,1577],[2033,1577],[1897,1668],[1624,1896],[1897,1896],[2171,1896]];
  vennCounts.forEach((n, i) => {
    const l = tx(g, spots[i][0], spots[i][1] + 8, String(n), 'a', 24, {anchor: 'middle'});
    
    
  });
  vennLegendLabels.forEach((s, i) => {
    const r = mk('rect', g, {x: 2173, y: [1102, 1134, 1165][i], width: 45, height: 16, fill: ['#ffa498', '#8adeed', '#bfdd80'][i], stroke: ['#f9806f', '#3ccbe2', '#a2cc48'][i], 'stroke-width': 2});
    
    
    const l = tx(g, [2229, 2229, 2232][i], [1120, 1150, 1180][i], s, 's', 24);
    
    
  });
})();

/* ---------- Panel F ---------- */
(function () {
  const g = document.getElementById('panelF');
  const fx = v => 3394 + (v - 200) * 1.4;
  const fy = i => 1205 + i * 43.74;
  const stops = [[0,'#b81414'],[.0003,'#e81c1c'],[.001,'#ffa500'],[.0015,'#f5d08a'],[.002,'#b5d3dc'],[.0026,'#05bdf7'],[.003,'#0a9ff0'],[.0037,'#0a5fa8']];
  keggMinorX.concat(keggTicksX).forEach(v => {
    const l = mk('line', g, {x1: fx(v), x2: fx(v), y1: 1180, y2: 2060, stroke: '#efefef', 'stroke-width': 2.5});
    
    
  });
  keggTerms.forEach((term, i) => {
    const gl = mk('line', g, {x1: 3394, x2: 3888, y1: fy(i), y2: fy(i), stroke: '#ececec', 'stroke-width': 3});
    
    
    const t = mk('line', g, {x1: 3387, x2: 3394, y1: fy(i), y2: fy(i), class: 'tick'});
    
    
    const l = tx(g, 3382, fy(i) + 10, term, 'a', 30.1, {anchor: 'end'});
    
    
  });
  keggEnrichment.forEach((v, i) => {
    const c = mk('circle', g, {cx: fx(v), cy: fy(i), r: keggCount[i] === 2 ? 10.5 : 8.5, fill: lerpColor(stops, keggPValue[i])});
    
    
  });
  const frameEl = mk('rect', g, {x: 3394, y: 1179, width: 494, height: 882, fill: 'none', stroke: '#222', 'stroke-width': 3});
  
  
  keggTicksX.forEach(v => {
    const t = mk('line', g, {x1: fx(v), x2: fx(v), y1: 2061, y2: 2068, class: 'tick'});
    
    
    const l = tx(g, fx(v), 2096, String(v), 'a', 29, {anchor: 'middle'});
    
    
  });
  countLegendValues.forEach((n, i) => {
    const c = mk('circle', g, {cx: 3940, cy: 1493 + i * 36, r: n === 2 ? 11 : 8, fill: '#000'});
    
    
    const l = tx(g, 3969, 1503 + i * 36, String(n), 'a', 29);
    
    
  });
  const grad = document.getElementById('pGrad');
  stops.forEach(s => {
    const st = mk('stop', grad, {offset: s[0] / .0037, 'stop-color': s[1]});
    
    
  });
  const bar = mk('rect', g, {x: 3923, y: 1635, width: 34, height: 174, fill: 'url(#pGrad)'});
  
  
  pLegendTicks.forEach(v => {
    const l = tx(g, 3969, 1810.4 - v * 46700 + 10, v.toFixed(3), 'a', 29);
    
    
  });
})();
</script>
</body>
</html>
